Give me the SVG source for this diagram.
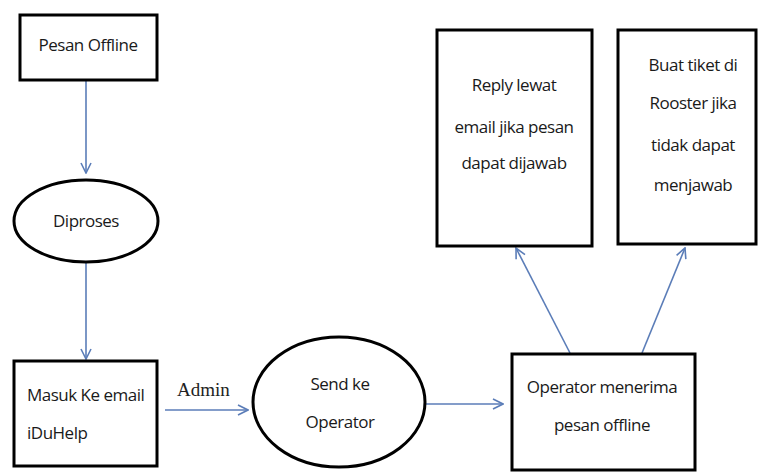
<svg xmlns="http://www.w3.org/2000/svg" width="760" height="475" viewBox="0 0 760 475">
<style>
.box{fill:#fff;stroke:#000;stroke-width:3}
.t{font-family:"Open Sans","Liberation Sans",sans-serif;font-size:17px;letter-spacing:-0.5px;fill:#1a1a1a;text-anchor:middle}
.tl{font-family:"Open Sans","Liberation Sans",sans-serif;font-size:17px;letter-spacing:-0.5px;fill:#1a1a1a}
.c{stroke:#5b7db8;stroke-width:1.6;fill:none;marker-end:url(#ah)}
.lab{font-family:"Liberation Serif",serif;font-size:19px;fill:#222}
</style>
<defs>
<marker id="ah" viewBox="0 0 12 12" refX="11" refY="6" markerWidth="12" markerHeight="12" markerUnits="userSpaceOnUse" orient="auto">
<path d="M1,1 L11,6 L1,11" fill="none" stroke="#5b7db8" stroke-width="1.6"/>
</marker>
</defs>
<rect width="760" height="475" fill="#fff"/>
<g id="connectors">
<line class="c" x1="86" y1="81" x2="86" y2="173"/>
<line class="c" x1="86" y1="262" x2="86" y2="359"/>
<line class="c" x1="165" y1="410" x2="248" y2="410"/>
<line class="c" x1="425" y1="404" x2="503" y2="404"/>
<line class="c" x1="570" y1="353" x2="516" y2="248"/>
<line class="c" x1="642" y1="353" x2="685" y2="248"/>
<text class="lab" x="177" y="396">Admin</text>
</g>
<g id="pesan-offline">
<rect class="box" x="20" y="15" width="137" height="65"/>
<text class="t" x="88" y="51">Pesan Offline</text>
</g>
<g id="diproses">
<ellipse class="box" cx="86" cy="221" rx="72" ry="41"/>
<text class="t" x="86" y="227">Diproses</text>
</g>
<g id="masuk-email">
<rect class="box" x="14" y="361" width="143" height="105"/>
<text class="tl" x="27" y="401">Masuk Ke email</text>
<text class="tl" x="27" y="439">iDuHelp</text>
</g>
<g id="send-operator">
<ellipse class="box" cx="339" cy="402" rx="86" ry="65"/>
<text class="t" x="340" y="390">Send ke</text>
<text class="t" x="340" y="428">Operator</text>
</g>
<g id="operator-menerima">
<rect class="box" x="512" y="354" width="183" height="116"/>
<text class="t" x="602" y="393">Operator menerima</text>
<text class="t" x="602" y="431">pesan offline</text>
</g>
<g id="reply">
<rect class="box" x="437" y="30" width="155" height="216"/>
<text class="t" x="514" y="91">Reply lewat</text>
<text class="t" x="514" y="133">email jika pesan</text>
<text class="t" x="514" y="169">dapat dijawab</text>
</g>
<g id="buat-tiket">
<rect class="box" x="618" y="30" width="138" height="214"/>
<text class="t" x="693" y="71">Buat tiket di</text>
<text class="t" x="693" y="109">Rooster jika</text>
<text class="t" x="693" y="151">tidak dapat</text>
<text class="t" x="693" y="191">menjawab</text>
</g>
</svg>
